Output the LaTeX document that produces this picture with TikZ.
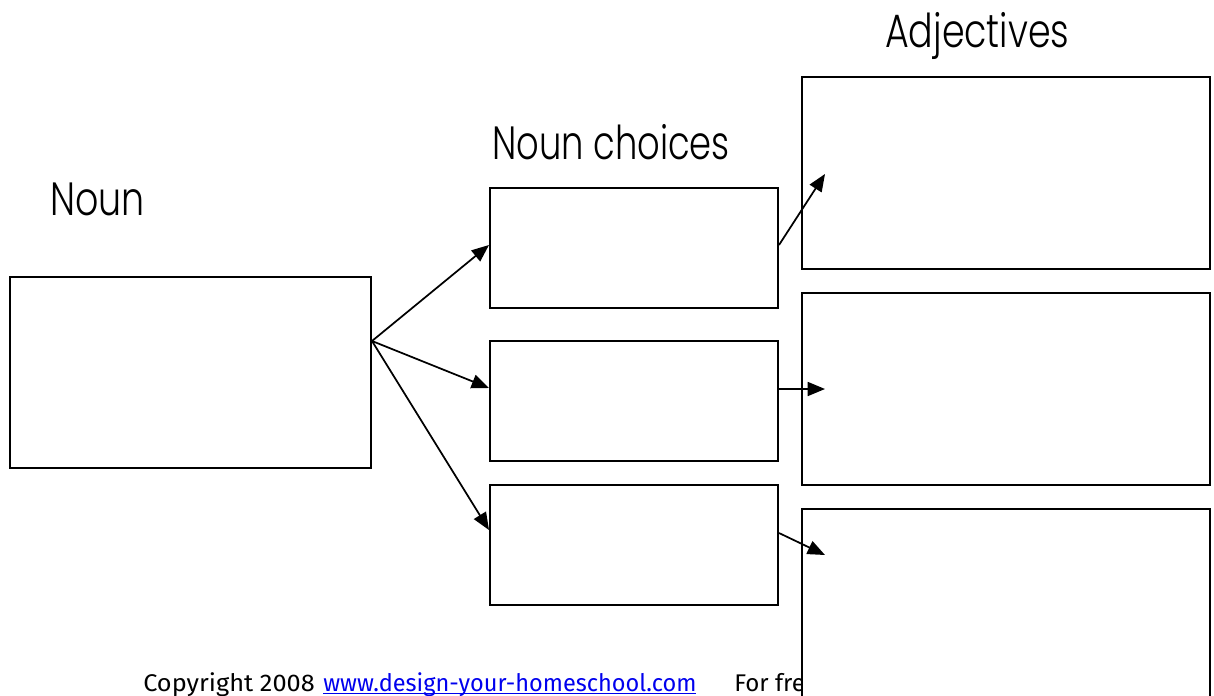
\documentclass[tikz,border=0pt]{standalone}
\usepackage{fontspec}
\setmainfont{Poppins}[UprightFont=* Light]
\newfontfamily\copyfont{Fira Sans}
\usetikzlibrary{arrows.meta,calc}
\newdimen\pxu \pxu=0.75pt
\definecolor{linkblue}{RGB}{0,0,238}
\newcommand\linkul[1]{\setbox0\hbox{#1}\rlap{\rule[-2.6pt]{\wd0}{0.9pt}}\box0}
\tikzset{
  box/.style={draw=black, line width=1.5pt, fill=white, rectangle, inner sep=0pt},
  conn/.style={line width=1.3pt, -{Triangle[length=13pt,width=10.5pt]}},
  lbl/.style={anchor=base west, inner sep=0pt, font=\fontsize{35}{40}\selectfont, xscale=0.78},
  copytext/.style={anchor=base west, inner sep=0pt, font=\copyfont\fontsize{18.1}{21}\selectfont},
}
\begin{document}
\begin{tikzpicture}[x=0.75pt,y=-0.75pt]
\useasboundingbox (0,0) rectangle (1214,696);
\clip (0,0) rectangle (1214,696);
\fill[white] (0,0) rectangle (1214,696);
% labels
\node[lbl] (lnoun) at (50,215) {Noun};
\node[lbl, xscale=0.97] (lchoices) at (492,159) {Noun choices};
\node[lbl] (ladj) at (885,47) {Adjectives};
% copyright
\node[copytext, xscale=1.05] (copy) at (143,691) {Copyright 2008};
\node[copytext, xscale=0.975, text=linkblue] (link) at (323,691) {\linkul{www.design-your-homeschool.com}};
\node[copytext] (free) at (734,691) {For free};
% boxes
\node[box, minimum width=361\pxu, minimum height=191\pxu] (noun) at (190.5,372.5) {};
\node[box, minimum width=288\pxu, minimum height=120\pxu] (c1) at (634,248) {};
\node[box, minimum width=288\pxu, minimum height=120\pxu] (c2) at (634,401) {};
\node[box, minimum width=288\pxu, minimum height=120\pxu] (c3) at (634,545) {};
\node[box, minimum width=408\pxu, minimum height=192\pxu] (a1) at (1006,173) {};
\node[box, minimum width=408\pxu, minimum height=192\pxu] (a2) at (1006,389) {};
\node[box, minimum width=408\pxu, minimum height=192\pxu] (a3) at (1006,605) {};
% connectors
\coordinate (src) at ([yshift=31.5\pxu]noun.east);
\draw[conn] (src) -- ([yshift=3\pxu]c1.west);
\draw[conn] (src) -- ([yshift=13\pxu]c2.west);
\draw[conn] (src) -- ([yshift=15\pxu]c3.west);
\draw[conn] ([yshift=3\pxu]c1.east) -- ([xshift=24\pxu,yshift=-1\pxu]a1.west);
\draw[conn] ([yshift=12\pxu]c2.east) -- ([xshift=24\pxu]a2.west);
\draw[conn] ([yshift=12\pxu]c3.east) -- ([xshift=24\pxu,yshift=-47\pxu]a3.north west);
\end{tikzpicture}
\end{document}
